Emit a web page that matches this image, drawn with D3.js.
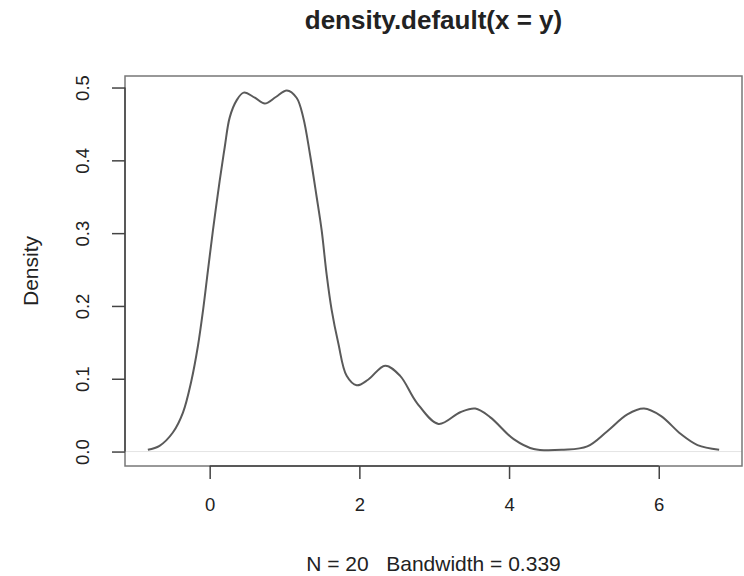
<!DOCTYPE html>
<html>
<head>
<meta charset="utf-8">
<script src="https://cdn.jsdelivr.net/npm/d3@7"></script>
<style>
  html, body { margin: 0; padding: 0; background: #fff; }
  svg { display: block; }
  text { font-family: "Liberation Sans", Arial, Helvetica, sans-serif; fill: #222; white-space: pre; }
</style>
</head>
<body>
<svg id="chart" width="744" height="576"></svg>
<script>
// ---- data ----
const densityX = [-0.826, -0.670, -0.492, -0.357, -0.245, -0.157, -0.090, -0.023, 0.044, 0.134,
  0.201, 0.268, 0.358, 0.455, 0.603, 0.737, 0.884, 1.031, 1.161, 1.250,
  1.339, 1.429, 1.496, 1.563, 1.629, 1.718, 1.830, 1.964, 2.120, 2.344,
  2.545, 2.768, 3.057, 3.348, 3.549, 3.750, 4.062, 4.330, 4.732, 5.045,
  5.313, 5.581, 5.803, 6.027, 6.295, 6.518, 6.807];
const densityY = [0.0025, 0.0079, 0.0262, 0.0536, 0.097, 0.145, 0.193, 0.249, 0.304, 0.372,
  0.418, 0.459, 0.482, 0.493, 0.486, 0.478, 0.487, 0.496, 0.486, 0.459,
  0.409, 0.350, 0.304, 0.243, 0.195, 0.149, 0.104, 0.091, 0.099, 0.118,
  0.104, 0.067, 0.038, 0.054, 0.059, 0.047, 0.017, 0.0034, 0.0025, 0.0071,
  0.028, 0.051, 0.059, 0.049, 0.024, 0.0089, 0.0025];
const xTicks = [0, 2, 4, 6];
const yTicks = [0.0, 0.1, 0.2, 0.3, 0.4, 0.5];
const titleText = "density.default(x = y)";
const xLabel = "N = 20   Bandwidth = 0.339";
const yLabel = "Density";

// ---- layout ----
const svg = d3.select("#chart");
const plot = { left: 125, right: 742, top: 76, bottom: 466 };

function padded(ext) { const p = 0.04 * (ext[1] - ext[0]); return [ext[0] - p, ext[1] + p]; }
const x = d3.scaleLinear().domain(padded(d3.extent(densityX))).range([plot.left, plot.right]);
const y = d3.scaleLinear().domain(padded([0, d3.max(densityY)])).range([plot.bottom, plot.top]);

const pts = densityX.map((d, i) => [d, densityY[i]]);

// zero line
svg.append("line")
  .attr("x1", plot.left).attr("x2", plot.right)
  .attr("y1", y(0)).attr("y2", y(0))
  .attr("stroke", "#e4e4e4").attr("stroke-width", 1);

// curve
svg.append("path")
  .datum(pts)
  .attr("fill", "none")
  .attr("stroke", "#5a5a5a")
  .attr("stroke-width", 2)
  .attr("d", d3.line().x(d => x(d[0])).y(d => y(d[1])).curve(d3.curveCatmullRom.alpha(0.5)));

// box
svg.append("rect")
  .attr("x", plot.left).attr("y", plot.top)
  .attr("width", plot.right - plot.left).attr("height", plot.bottom - plot.top)
  .attr("fill", "none").attr("stroke", "#777").attr("stroke-width", 1.5);

// x axis
const xAxis = d3.axisBottom(x).tickValues(xTicks).tickSize(13).tickPadding(19).tickFormat(d3.format("d"));
const gx = svg.append("g").attr("transform", `translate(0,${plot.bottom})`).call(xAxis);
gx.select(".domain").attr("d", `M${x(xTicks[0])},0H${x(xTicks[xTicks.length - 1])}`)
  .attr("stroke", "#444").attr("stroke-width", 1.5);
gx.selectAll(".tick line").attr("stroke", "#444").attr("stroke-width", 1.5);
gx.selectAll(".tick text").attr("font-size", 18.5).attr("fill", "#222")
  .attr("font-family", "Liberation Sans, Arial, sans-serif");

// y axis
const yAxis = d3.axisLeft(y).tickValues(yTicks).tickSize(13).tickPadding(0).tickFormat(d3.format(".1f"));
const gy = svg.append("g").attr("transform", `translate(${plot.left},0)`).call(yAxis);
gy.select(".domain").attr("d", `M0,${y(yTicks[0])}V${y(yTicks[yTicks.length - 1])}`)
  .attr("stroke", "#444").attr("stroke-width", 1.5);
gy.selectAll(".tick line").attr("stroke", "#444").attr("stroke-width", 1.5);
gy.selectAll(".tick text")
  .attr("font-size", 18.5).attr("fill", "#222")
  .attr("font-family", "Liberation Sans, Arial, sans-serif")
  .attr("x", null).attr("dy", null)
  .attr("text-anchor", "middle")
  .attr("transform", "translate(-36,0) rotate(-90)");

// title
svg.append("text")
  .attr("x", (plot.left + plot.right) / 2).attr("y", 29)
  .attr("text-anchor", "middle")
  .attr("font-size", 26).attr("font-weight", "bold")
  .text(titleText);

// x label
svg.append("text")
  .attr("x", (plot.left + plot.right) / 2).attr("y", 571)
  .attr("text-anchor", "middle")
  .attr("xml:space", "preserve")
  .attr("font-size", 21)
  .text(xLabel);

// y label
svg.append("text")
  .attr("transform", `translate(38,${(plot.top + plot.bottom) / 2}) rotate(-90)`)
  .attr("text-anchor", "middle")
  .attr("font-size", 21)
  .text(yLabel);
</script>
</body>
</html>
